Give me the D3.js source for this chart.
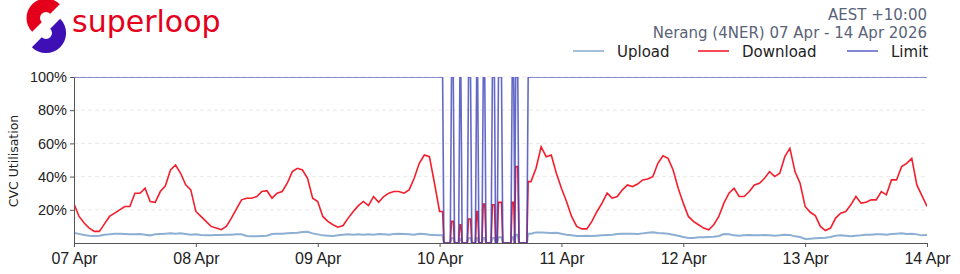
<!DOCTYPE html>
<html>
<head>
<meta charset="utf-8">
<script src="https://cdn.jsdelivr.net/npm/d3@7"></script>
<style>
  body { margin: 0; background: #fff; }
  svg { display: block; font-family: 'DejaVu Sans', sans-serif; }
</style>
</head>
<body>
<svg id="chart" width="960" height="274"></svg>
<script>
// hourly utilisation (%) from 07 Apr 00:00, before the outage (h0..h72)
var downloadBefore = [
  23.6, 16, 12, 9, 7, 7, 11.5, 16, 18, 20, 22, 22, 30, 30, 33, 25, 24.5, 31, 34.5, 44, 47, 42, 35, 32,
  19, 16, 13, 10, 9, 8, 10, 15, 20.5, 26, 27, 27, 28, 31, 31.5, 27, 30, 31, 36, 43, 45, 44, 39, 27,
  25, 16, 13, 11, 9.5, 10.5, 15, 19, 22.5, 25, 22.5, 28, 24.5, 28, 30, 31, 31, 30, 32, 39, 48, 53, 52, 36,
  19
]
var uploadBefore = [
  6, 5.5, 4.8, 4.4, 4.2, 4.4, 5, 5.2, 5.5, 5.6, 5.4, 5.2, 5.2, 5.4, 5, 4.6, 5.2, 5.4, 5.6, 5.8, 5.6, 5.8, 5.4, 5,
  5.2, 4.8, 4.6, 4.6, 4.8, 4.8, 5, 5, 5.2, 5.2, 4.2, 4, 4, 4.2, 4.4, 5.4, 5.6, 5.6, 5.8, 6, 6.2, 6.6, 6.8, 5.8,
  5.2, 4.6, 4.4, 4.2, 4.6, 5, 5.2, 5, 5.2, 5, 5.2, 5, 5.4, 5.2, 5, 5.4, 5.6, 5.4, 5.2, 5, 5.6, 5.4, 5, 4.8,
  4.6
]
// hourly utilisation after the outage (h90..h168)
var downloadAfter = [
  37, 45, 58, 52, 53, 42, 33, 25, 16, 10, 8.5, 8.5, 13, 19, 24, 30, 27, 28, 32, 35, 34, 35.5, 38, 38.5, 40, 48, 52.5, 51, 44, 33,
  24, 16, 13, 11, 9, 8, 11, 16, 24, 30, 33, 28, 28, 31, 35, 36, 39, 43, 40, 42, 52, 57, 43, 36,
  22, 18.5, 16.5, 10, 7.5, 9, 15, 18, 19, 23, 28, 24, 24.5, 26, 26, 31, 29, 38, 38, 46, 48, 51, 35, 28.5,
  22
]
var uploadAfter = [
  5.6, 6.4, 6.4, 6.2, 6, 6.2, 5.6, 5, 4.6, 4.2, 4.2, 4.4, 4.2, 4.4, 4.6, 4.8, 5, 5.4, 5.6, 5.6, 5.6, 5.4, 5.8, 6.2, 6.4, 6, 5.8, 5.6, 5, 4.4,
  3.6, 3, 3, 3.4, 3.4, 3.6, 3.8, 4.2, 5.4, 5.2, 4.6, 4.4, 4.6, 4.8, 4.6, 4.6, 4.8, 4.6, 4.4, 4.6, 5, 4.8, 4, 3.6,
  2.4, 2.6, 2.8, 3, 3.2, 3.6, 4.4, 4.6, 4.4, 4, 4.4, 4.6, 5, 5, 5.2, 5.2, 5, 5.4, 5.6, 5.8, 5.4, 5.6, 5.2, 4.6,
  4.8
]
var afterStartHour = 90

// outage on 10 Apr: link flaps up for short windows
var outageStartHour = 72.6
var outageEndHour = 89.45
var pulseStart = [74.35, 76.0, 77.7, 79.3, 80.6, 82.4, 83.6, 86.3, 87.0]
var pulseEnd = [74.7, 76.2, 78.1, 79.5, 80.9, 82.8, 84.2, 86.6, 87.4]
var pulseDownload = [13, 11, 14.5, 19, 23.5, 23, 24.5, 24.5, 46]
var pulseUpload = [3, 2.5, 3, 3, 3, 3, 3.5, 3.5, 5]
var limitUp = 100
var ramp = 0.25

var yTicks = [20, 40, 60, 80, 100]
var startDate = new Date(2026, 3, 7)
var endDate = new Date(2026, 3, 14)

var legendNames = ['Upload', 'Download', 'Limit']
var colours = { Upload: '#8cafd3', Download: '#f41e2c', Limit: '#3f43b8' }

// build the combined series
var points = []
downloadBefore.forEach(function (v, i) {
  points.push({ h: i, down: v, up: uploadBefore[i], limit: limitUp })
})
var last = points[points.length - 1]
points.push({ h: outageStartHour, down: last.down, up: last.up, limit: limitUp })
points.push({ h: outageStartHour + ramp, down: 0, up: 0, limit: 0 })
pulseStart.forEach(function (s, i) {
  points.push({ h: s - ramp, down: 0, up: 0, limit: 0 })
  points.push({ h: s, down: pulseDownload[i], up: pulseUpload[i], limit: limitUp })
  points.push({ h: pulseEnd[i], down: pulseDownload[i], up: pulseUpload[i], limit: limitUp })
  points.push({ h: pulseEnd[i] + ramp, down: 0, up: 0, limit: 0 })
})
points.push({ h: outageEndHour - ramp, down: 0, up: 0, limit: 0 })
points.push({ h: outageEndHour, down: downloadAfter[0], up: uploadAfter[0], limit: limitUp })
downloadAfter.forEach(function (v, i) {
  points.push({ h: afterStartHour + i, down: v, up: uploadAfter[i], limit: limitUp })
})
points.forEach(function (d) { d.date = d3.timeMinute.offset(startDate, Math.round(d.h * 60)) })

var svg = d3.select('#chart')
var plotLeft = 74
var plotRight = 927
var plotTop = 77
var plotBottom = 243

var x = d3.scaleTime().domain([startDate, endDate]).range([plotLeft, plotRight])
var y = d3.scaleLinear().domain([0, 100]).range([plotBottom, plotTop])

svg.append('defs').append('clipPath').attr('id', 'plot')
  .append('rect').attr('x', plotLeft).attr('y', plotTop)
  .attr('width', plotRight - plotLeft).attr('height', plotBottom - plotTop)

// grid
svg.append('g').selectAll('line')
  .data(yTicks)
  .enter().append('line')
    .attr('x1', plotLeft).attr('x2', plotRight)
    .attr('y1', function (d) { return y(d) }).attr('y2', function (d) { return y(d) })
    .style('stroke', '#e4e4e4')
    .style('stroke-dasharray', '4,3')
    .style('stroke-width', 0.8)

var plot = svg.append('g').attr('clip-path', 'url(#plot)')

function lineFor (key) {
  return d3.line()
    .x(function (d) { return x(d.date) })
    .y(function (d) { return y(d[key]) })
}

plot.append('path').datum(points)
  .attr('d', lineFor('up'))
  .style('fill', 'none').style('stroke', colours.Upload).style('stroke-width', 2)

plot.append('path').datum(points)
  .attr('d', lineFor('down'))
  .style('fill', 'none').style('stroke', colours.Download).style('stroke-width', 1.6)

plot.append('path').datum(points)
  .attr('d', lineFor('limit'))
  .style('fill', 'none').style('stroke', colours.Limit).style('stroke-width', 1.6)
  .style('stroke-opacity', 0.8)

// axes
var xAxis = svg.append('g')
  .attr('transform', 'translate(0,' + plotBottom + ')')
  .call(d3.axisBottom(x).ticks(d3.timeDay.every(1)).tickFormat(d3.timeFormat('%d %b')).tickSize(4).tickSizeOuter(0))
xAxis.selectAll('text').style('font-size', '16px').style('fill', '#222').attr('dy', '0.9em')

var yAxis = svg.append('g')
  .attr('transform', 'translate(' + plotLeft + ',0)')
  .call(d3.axisLeft(y).tickValues(yTicks).tickFormat(function (d) { return d + '%' }).tickSize(4).tickSizeOuter(0))
yAxis.selectAll('text').style('font-size', '14.5px').style('fill', '#222')

svg.selectAll('.domain').style('stroke', '#555')
svg.selectAll('.tick line').style('stroke', '#555')

svg.append('text')
  .attr('transform', 'translate(18,161) rotate(-90)')
  .attr('text-anchor', 'middle')
  .style('font-size', '12.5px')
  .style('fill', '#222')
  .text('CVC Utilisation')

// title
svg.append('text').attr('x', 927).attr('y', 19.5).attr('text-anchor', 'end')
  .style('font-size', '15px').style('fill', '#5a6377').text('AEST +10:00')
svg.append('text').attr('x', 927).attr('y', 37.5).attr('text-anchor', 'end')
  .style('font-size', '15px').style('fill', '#5a6377').text('Nerang (4NER) 07 Apr - 14 Apr 2026')

// legend
var legendX = [573, 698, 847]
var legend = svg.append('g').selectAll('g')
  .data(legendNames)
  .enter().append('g')
    .attr('transform', function (d, i) { return 'translate(' + legendX[i] + ',51)' })
legend.append('line')
  .attr('x1', 0).attr('x2', 31)
  .style('stroke', function (d) { return colours[d] })
  .style('stroke-opacity', function (d) { return d === 'Limit' ? 0.8 : 1 })
  .style('stroke-width', 1.6)
legend.append('text')
  .attr('x', 44).attr('y', 5.5)
  .style('font-size', '15px').style('fill', '#222')
  .text(function (d) { return d })

// logo: two offset half rings forming an S
var logo = svg.append('g')
logo.append('path')
  .attr('transform', 'translate(46,18)')
  .attr('d', d3.arc().innerRadius(6).outerRadius(19.5).startAngle(Math.PI * 1.25).endAngle(Math.PI * 2.25)())
  .style('fill', '#e4001b')
logo.append('path')
  .attr('transform', 'translate(46,33)')
  .attr('d', d3.arc().innerRadius(6).outerRadius(20).startAngle(Math.PI * 0.25).endAngle(Math.PI * 1.25)())
  .style('fill', '#3d0fb5')
logo.append('text')
  .attr('x', 72).attr('y', 32)
  .style('font-size', '30px').style('fill', '#e4001b')
  .text('superloop')
</script>
</body>
</html>
